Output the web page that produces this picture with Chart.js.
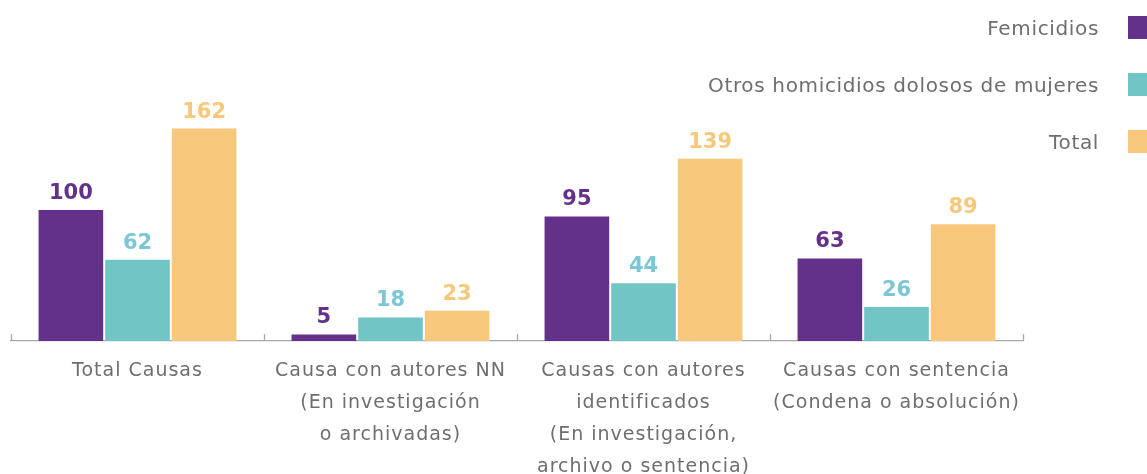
<!DOCTYPE html>
<html>
<head>
<meta charset="utf-8">
<script src="https://cdn.jsdelivr.net/npm/chart.js@4"></script>
<style>
  html, body { margin: 0; padding: 0; background: #fff; overflow: hidden; }
  #wrap { position: relative; width: 1147px; height: 474px; }
  #legend { position: absolute; right: 0; top: 0; width: 700px; height: 170px; font-family: "DejaVu Sans", sans-serif; }
  .li { position: absolute; right: 0; height: 23px; display: flex; align-items: center; justify-content: flex-end; }
  .li span { font-size: 20px; letter-spacing: 0.65px; color: #6d6e71; margin-right: 29px; white-space: nowrap; }
  .li i { display: block; width: 23px; height: 23px; margin-right: -4px; }
</style>
</head>
<body>
<div id="wrap">
  <canvas id="c" width="1147" height="474"></canvas>
  <div id="legend"></div>
</div>
<script>
const categories = [
  ["Total Causas"],
  ["Causa con autores NN", "(En investigación", "o archivadas)"],
  ["Causas con autores", "identificados", "(En investigación,", "archivo o sentencia)"],
  ["Causas con sentencia", "(Condena o absolución)"]
];
const seriesNames = ["Femicidios", "Otros homicidios dolosos de mujeres", "Total"];
const femicidios = [100, 5, 95, 63];
const otrosHomicidios = [62, 18, 44, 26];
const total = [162, 23, 139, 89];

const barColors = ["#63308a", "#72c5c5", "#f7c87c"];
const labelColors = ["#63308a", "#7bc7d6", "#f8c87a"];

// HTML legend
const legendTops = [16, 73, 130];
const legend = document.getElementById("legend");
seriesNames.forEach((n, i) => {
  const d = document.createElement("div");
  d.className = "li";
  d.style.top = legendTops[i] + "px";
  d.innerHTML = '<span></span><i></i>';
  d.querySelector("span").textContent = n;
  d.querySelector("i").style.background = barColors[i];
  legend.appendChild(d);
});

const spacing = {
  id: "spacing",
  beforeDraw(chart) { chart.ctx.letterSpacing = "1px"; },
  afterDraw(chart) { chart.ctx.letterSpacing = "0px"; }
};

const valueLabels = {
  id: "valueLabels",
  afterDatasetsDraw(chart) {
    const ctx = chart.ctx;
    ctx.save();
    ctx.letterSpacing = "0px";
    ctx.font = "bold 21px 'DejaVu Sans', sans-serif";
    ctx.textAlign = "center";
    ctx.textBaseline = "alphabetic";
    chart.data.datasets.forEach((ds, di) => {
      const meta = chart.getDatasetMeta(di);
      meta.data.forEach((bar, i) => {
        ctx.fillStyle = labelColors[di];
        ctx.fillText(String(ds.data[i]), bar.x, bar.y - 11);
      });
    });
    ctx.restore();
  }
};

const axisTicks = {
  id: "axisTicks",
  afterDraw(chart) {
    const xs = chart.scales.x;
    const n = chart.data.labels.length;
    const step = (xs.getPixelForValue(1) - xs.getPixelForValue(0));
    const y = chart.chartArea.bottom;
    const ctx = chart.ctx;
    ctx.save();
    ctx.strokeStyle = "#a7a9ac";
    ctx.lineWidth = 1.3;
    for (let i = 0; i <= n; i++) {
      const x = Math.round(xs.getPixelForValue(0) - step / 2 + i * step) + 0.5;
      ctx.beginPath();
      ctx.moveTo(x, y - 7);
      ctx.lineTo(x, y);
      ctx.stroke();
    }
    ctx.restore();
  }
};

new Chart(document.getElementById("c"), {
  type: "bar",
  data: {
    labels: categories,
    datasets: [
      { label: seriesNames[0], data: femicidios, backgroundColor: barColors[0] },
      { label: seriesNames[1], data: otrosHomicidios, backgroundColor: barColors[1] },
      { label: seriesNames[2], data: total, backgroundColor: barColors[2] }
    ]
  },
  options: {
    responsive: false,
    animation: false,
    events: [],
    layout: { padding: { left: 11, right: 124, top: 105, bottom: 0 } },
    datasets: { bar: { categoryPercentage: 0.79, barPercentage: 0.97 } },
    plugins: { legend: { display: false }, tooltip: { enabled: false } },
    scales: {
      y: { display: false, min: 0, max: 180 },
      x: {
        afterFit(s) { s.height = 133; },
        grid: { display: false, drawTicks: false },
        border: { display: true, color: "#a7a9ac", width: 1.3 },
        ticks: {
          padding: 14,
          color: "#6d6e71",
          font: { family: "'DejaVu Sans', sans-serif", size: 19, lineHeight: 1.68 },
          maxRotation: 0,
          autoSkip: false
        }
      }
    }
  },
  plugins: [spacing, valueLabels, axisTicks]
});
</script>
</body>
</html>
